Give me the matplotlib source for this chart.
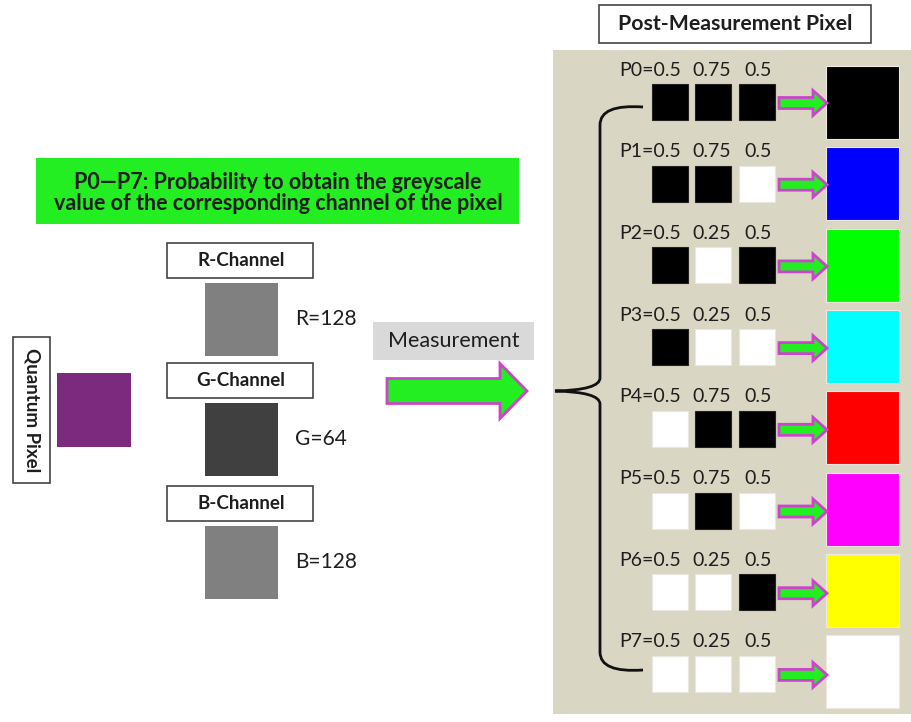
import matplotlib.pyplot as plt
import matplotlib.patches as mpatches
from matplotlib.path import Path

plt.rcParams['font.family'] = ['Lato', 'DejaVu Sans']

# ---------- data ----------
row_names = ["P0", "P1", "P2", "P3", "P4", "P5", "P6", "P7"]
prob_r = [0.5, 0.5, 0.5, 0.5, 0.5, 0.5, 0.5, 0.5]
prob_g = [0.75, 0.75, 0.25, 0.25, 0.75, 0.75, 0.25, 0.25]
prob_b = [0.5, 0.5, 0.5, 0.5, 0.5, 0.5, 0.5, 0.5]
# 1 = black square, 0 = white square (R, G, B)
bits = [[1, 1, 1], [1, 1, 0], [1, 0, 1], [1, 0, 0],
        [0, 1, 1], [0, 1, 0], [0, 0, 1], [0, 0, 0]]
out_colors = ["#000000", "#0000ff", "#00ff00", "#00ffff",
              "#ff0000", "#ff00ff", "#ffff00", "#ffffff"]
channels = ["R", "G", "B"]
channel_values = [128, 64, 128]
pixel_color = "#7b2a7e"

title_text = "Post-Measurement Pixel"
note_text = "P0\u2014P7: Probability to obtain the greyscale\nvalue of the corresponding channel of the pixel"

TXT = "#1e1e1e"
ARROW_FACE = "#22ee22"
ARROW_EDGE = "#cc44cc"

fig = plt.figure(figsize=(9.11, 7.22), dpi=100)
ax = fig.add_axes([0, 0, 1, 1])
ax.set_xlim(0, 911)
ax.set_ylim(722, 0)
ax.axis('off')


def box(x, y, w, h, fc="white", ec="#444444", lw=1.2, z=1):
    ax.add_patch(mpatches.Rectangle((x, y), w, h, facecolor=fc, edgecolor=ec, lw=lw, zorder=z))


# ---------- left part ----------
box(36, 158, 483, 66, fc="#22ee22", ec="#22ee22", lw=0)
ax.text(278, 193, note_text, ha="center", va="center", fontsize=15.5,
        fontweight="bold", color=TXT, linespacing=1.05, zorder=3)

# quantum pixel
box(13, 337, 37, 146)
ax.text(31.5, 410, "Quantum Pixel", rotation=-90, ha="center", va="center",
        fontsize=13.5, fontweight="bold", color=TXT)
box(57, 373, 74, 74, fc=pixel_color, ec=pixel_color, lw=0)

chan_top = [243, 363, 486]
for i, ch in enumerate(channels):
    y0 = chan_top[i]
    box(167, y0, 146, 35)
    ax.text(241, y0 + 17.5, ch + "-Channel", ha="center", va="center",
            fontsize=13.5, fontweight="bold", color=TXT)
    g = channel_values[i] / 255
    box(205, y0 + 40, 73, 73, fc=(g, g, g), ec=(g, g, g), lw=0)
    ax.text(295, y0 + 40 + 36, f"{ch}={channel_values[i]}", ha="left", va="center",
            fontsize=15, color=TXT)

# measurement label + big arrow
box(373, 322, 161, 38, fc="#d9d9d9", ec="#d9d9d9", lw=0)
ax.text(454, 341, "Measurement", ha="center", va="center", fontsize=15.5, color=TXT)
ax.add_patch(mpatches.FancyArrow(387, 391, 140, 0, width=25, head_width=55,
                                 head_length=27, length_includes_head=True,
                                 facecolor=ARROW_FACE, edgecolor=ARROW_EDGE, lw=2, zorder=3))

# ---------- right panel ----------
box(553, 50, 360, 664, fc="#dad6c4", ec="#dad6c4", lw=0, z=0)
box(599, 5, 272, 38)
ax.text(735, 24, title_text, ha="center", va="center", fontsize=15.3,
        fontweight="bold", color=TXT)

# brace
verts = [(643, 107), (600, 104), (600, 125), (600, 378), (600, 390), (555, 391),
         (600, 392), (600, 404), (600, 652), (600, 673), (643, 670)]
codes = [Path.MOVETO, Path.CURVE3, Path.CURVE3, Path.LINETO, Path.CURVE3, Path.CURVE3,
         Path.CURVE3, Path.CURVE3, Path.LINETO, Path.CURVE3, Path.CURVE3]
ax.add_patch(mpatches.PathPatch(Path(verts, codes), facecolor="none",
                                edgecolor="#111111", lw=2, zorder=2))

pitch = 81.7
sq_x = [652, 695, 739]
for k, name in enumerate(row_names):
    ly = 70 + k * pitch
    ax.text(681, ly, f"{name}={prob_r[k]}", ha="right", va="center", fontsize=14, color=TXT)
    ax.text(712, ly, f"{prob_g[k]}", ha="center", va="center", fontsize=14, color=TXT)
    ax.text(758, ly, f"{prob_b[k]}", ha="center", va="center", fontsize=14, color=TXT)
    for j in range(3):
        c = "#000000" if bits[k][j] else "#ffffff"
        box(sq_x[j], ly + 14, 36, 36, fc=c, ec="#e8e8e0" if not bits[k][j] else "#222222", lw=0.8)
    ay = ly + 33
    ax.add_patch(mpatches.FancyArrow(779, ay, 48, 0, width=11, head_width=25,
                                     head_length=14, length_includes_head=True,
                                     facecolor=ARROW_FACE, edgecolor=ARROW_EDGE, lw=2, zorder=3))
    by = 66 + k * 81.3
    box(826, by, 73, 73, fc=out_colors[k], ec="#f0e8e0", lw=0.8)

fig.savefig("out.png", dpi=100)
